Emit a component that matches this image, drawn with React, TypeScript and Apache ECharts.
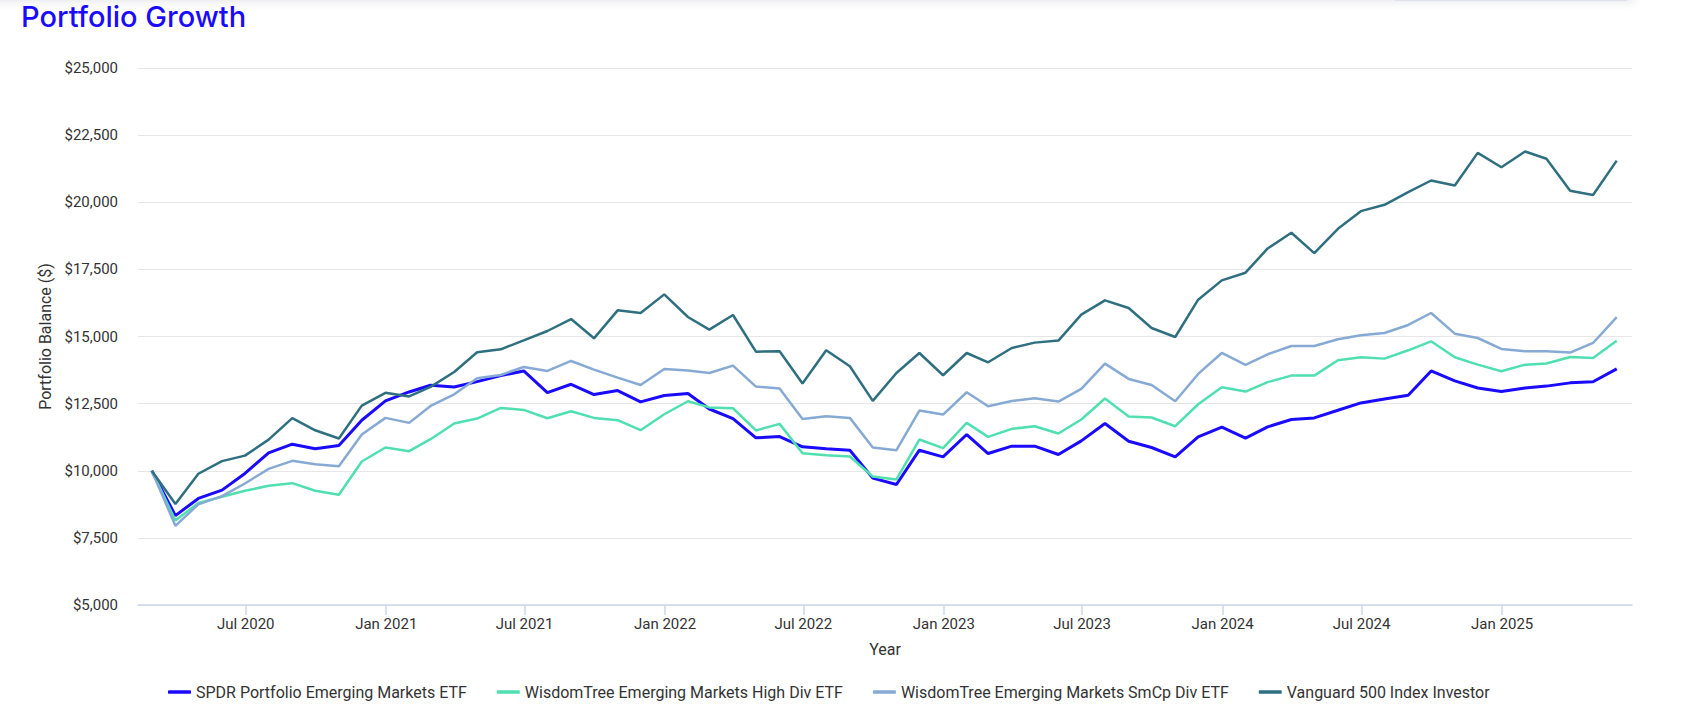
import React, { useEffect, useRef } from "react";
import * as echarts from "echarts";

// Month-end observation dates (first one is the starting balance)
const months = [
  "2020-02", "2020-03", "2020-04", "2020-05", "2020-06", "2020-07", "2020-08", "2020-09", "2020-10", "2020-11", "2020-12",
  "2021-01", "2021-02", "2021-03", "2021-04", "2021-05", "2021-06", "2021-07", "2021-08", "2021-09", "2021-10", "2021-11", "2021-12",
  "2022-01", "2022-02", "2022-03", "2022-04", "2022-05", "2022-06", "2022-07", "2022-08", "2022-09", "2022-10", "2022-11", "2022-12",
  "2023-01", "2023-02", "2023-03", "2023-04", "2023-05", "2023-06", "2023-07", "2023-08", "2023-09", "2023-10", "2023-11", "2023-12",
  "2024-01", "2024-02", "2024-03", "2024-04", "2024-05", "2024-06", "2024-07", "2024-08", "2024-09", "2024-10", "2024-11", "2024-12",
  "2025-01", "2025-02", "2025-03", "2025-04", "2025-05",
];

const spdr = [
  10000, 8330, 8968, 9278, 9898, 10667, 10989, 10816, 10940, 11882, 12601,
  12935, 13184, 13122, 13320, 13544, 13717, 12911, 13221, 12837, 12986, 12564, 12800,
  12874, 12300, 11945, 11225, 11274, 10890, 10816, 10766, 9724, 9489, 10766, 10518,
  11349, 10642, 10915, 10915, 10605, 11113, 11759, 11101, 10866, 10518, 11262, 11622,
  11212, 11634, 11907, 11969, 12254, 12527, 12676, 12812, 13717, 13345, 13084, 12948,
  13084, 13152, 13273, 13313, 13795,
];

const highDiv = [
  10000, 8150, 8800, 9030, 9253, 9439, 9538, 9253, 9104, 10345, 10866,
  10729, 11175, 11759, 11945, 12341, 12266, 11956, 12217, 11969, 11882, 11510, 12105,
  12589, 12360, 12328, 11500, 11746, 10654, 10580, 10530, 9786, 9675, 11163, 10840,
  11783, 11262, 11560, 11659, 11386, 11907, 12689, 12019, 11982, 11659, 12477, 13110,
  12948, 13300, 13543, 13543, 14114, 14226, 14176, 14486, 14821, 14226, 13952, 13705,
  13952, 13996, 14237, 14197, 14839,
];

const smcp = [
  10000, 7950, 8750, 9055, 9526, 10072, 10369, 10245, 10171, 11349, 11969,
  11783, 12415, 12849, 13444, 13568, 13866, 13717, 14089, 13768, 13469, 13196, 13791,
  13730, 13642, 13916, 13134, 13060, 11931, 12031, 11969, 10866, 10766, 12242, 12093,
  12924, 12403, 12601, 12700, 12577, 13048, 13990, 13420, 13196, 12589, 13606, 14386,
  13940, 14337, 14647, 14647, 14895, 15044, 15131, 15429, 15875, 15106, 14944, 14535,
  14450, 14450, 14400, 14759, 15723,
];

const vanguard = [
  10000, 8765, 9888, 10359, 10564, 11159, 11961, 11507, 11200, 12425, 12901,
  12769, 13122, 13680, 14412, 14523, 14858, 15205, 15651, 14932, 15974, 15875, 16569,
  15726, 15256, 15800, 14436, 14449, 13246, 14486, 13891, 12601, 13642, 14386, 13556,
  14386, 14040, 14573, 14772, 14847, 15814, 16346, 16061, 15317, 14982, 16370, 17090,
  17376, 18280, 18864, 18107, 19012, 19669, 19906, 20376, 20810, 20624, 21839, 21305,
  21889, 21620, 20430, 20270, 21550,
];

const seriesNames = [
  "SPDR Portfolio Emerging Markets ETF",
  "WisdomTree Emerging Markets High Div ETF",
  "WisdomTree Emerging Markets SmCp Div ETF",
  "Vanguard 500 Index Investor",
];
const seriesColors = ["#1a0aff", "#4fe0ae", "#87aad4", "#2e6f80"];
const seriesValues = [spdr, highDiv, smcp, vanguard];

const tickMonths = [
  "2020-07", "2021-01", "2021-07", "2022-01", "2022-07",
  "2023-01", "2023-07", "2024-01", "2024-07", "2025-01",
];
const monthNames = ["Jan", "Feb", "Mar", "Apr", "May", "Jun", "Jul", "Aug", "Sep", "Oct", "Nov", "Dec"];

function monthEnd(s: string): number {
  const [y, m] = s.split("-").map(Number);
  return Date.UTC(y, m, 0);
}
function monthStart(s: string): number {
  const [y, m] = s.split("-").map(Number);
  return Date.UTC(y, m - 1, 1);
}

const tickValues = tickMonths.map(monthStart);

export default function App() {
  const ref = useRef<HTMLDivElement>(null);

  useEffect(() => {
    if (!ref.current) return;
    const chart = echarts.init(ref.current, null, { renderer: "svg" });
    const labelColor = "#333333";
    chart.setOption({
      animation: false,
      backgroundColor: "#ffffff",
      textStyle: { fontFamily: "Roboto" },
      title: {
        text: "Portfolio Growth",
        left: 16,
        top: -3,
        textStyle: { fontFamily: "Inter", fontSize: 29, fontWeight: 500, color: "#1a0aff" },
      },
      legend: {
        left: 163,
        top: 679,
        itemGap: 30,
        itemWidth: 23,
        itemHeight: 3.5,
        icon: "roundRect",
        data: seriesNames,
        textStyle: { fontSize: 16, color: labelColor, fontFamily: "Roboto" },
      },
      grid: { left: 138, right: 58, top: 68, bottom: 115 },
      xAxis: {
        type: "value",
        min: Date.UTC(2020, 1, 11),
        max: Date.UTC(2025, 5, 20),
        name: "Year",
        nameLocation: "middle",
        nameGap: 36,
        nameTextStyle: { fontSize: 16, color: labelColor },
        axisLine: { show: true, lineStyle: { color: "#ccd6eb", width: 1.5 } },
        axisTick: {
          show: true,
          length: 10,
          customValues: tickValues,
          lineStyle: { color: "#ccd6eb", width: 1.5 },
        },
        axisLabel: {
          customValues: tickValues,
          margin: 11,
          fontSize: 15,
          color: labelColor,
          showMinLabel: true,
          showMaxLabel: true,
          formatter: (v: number) => {
            const d = new Date(v);
            return monthNames[d.getUTCMonth()] + " " + d.getUTCFullYear();
          },
        },
        splitLine: { show: false },
      },
      yAxis: {
        type: "value",
        min: 5000,
        max: 25000,
        interval: 2500,
        name: "Portfolio Balance ($)",
        nameLocation: "middle",
        nameGap: 85,
        nameTextStyle: { fontSize: 16, color: labelColor },
        axisLine: { show: false },
        axisTick: { show: false },
        axisLabel: {
          margin: 20,
          fontSize: 15,
          color: labelColor,
          formatter: (v: number) => "$" + v.toLocaleString("en-US"),
        },
        splitLine: { lineStyle: { color: "#e6e6e6", width: 1 } },
      },
      series: seriesNames.map((name, k) => ({
        name,
        type: "line",
        symbol: "none",
        showSymbol: false,
        color: seriesColors[k],
        lineStyle: { color: seriesColors[k], width: k === 0 ? 3 : 2.5 },
        data: months.map((m, i) => [monthEnd(m), seriesValues[k][i]]),
      })),
    });
    return () => chart.dispose();
  }, []);

  return (
    <div style={{ position: "absolute", left: 0, top: 0, width: 1690, height: 720, background: "#fff", overflow: "hidden" }}>
      <div ref={ref} style={{ position: "absolute", left: 0, top: 0, width: 1690, height: 720 }} />
      <div
        style={{
          position: "absolute",
          left: -20,
          top: -20,
          width: 1655,
          height: 20,
          boxShadow: "0 2px 10px rgba(20,30,80,0.10)",
          background: "#fff",
        }}
      />
      <div style={{ position: "absolute", left: 1395, top: 0, width: 232, height: 1, background: "#dfe2ec" }} />
    </div>
  );
}
